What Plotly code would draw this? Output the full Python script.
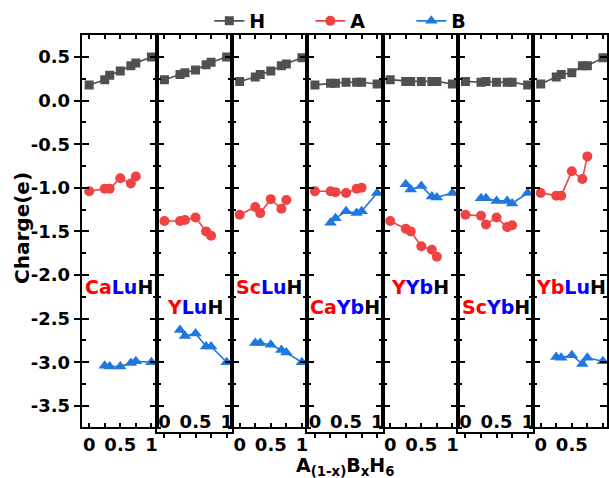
import plotly.graph_objects as go

# ---------------- data ----------------
panels = ["CaLuH", "YLuH", "ScLuH", "CaYbH", "YYbH", "ScYbH", "YbLuH"]
elem_A = ["Ca", "Y", "Sc", "Ca", "Y", "Sc", "Yb"]
elem_B = ["Lu", "Lu", "Lu", "Yb", "Yb", "Yb", "Lu"]

x_H = [0, 0.25, 0.33, 0.5, 0.67, 0.75, 1]
x_A = [0, 0.25, 0.33, 0.5, 0.67, 0.75]
x_B = [0.25, 0.33, 0.5, 0.67, 0.75, 1]

H_vals = [
    [0.18, 0.24, 0.29, 0.34, 0.40, 0.43, 0.50],
    [0.24, 0.30, 0.32, 0.35, 0.41, 0.44, 0.50],
    [0.22, 0.27, 0.30, 0.34, 0.40, 0.42, 0.49],
    [0.18, 0.20, 0.20, 0.21, 0.21, 0.21, 0.19],
    [0.24, 0.22, 0.22, 0.22, 0.22, 0.22, 0.19],
    [0.22, 0.21, 0.22, 0.21, 0.21, 0.21, 0.18],
    [0.19, 0.27, 0.30, 0.32, 0.40, 0.40, 0.49],
]
A_vals = [
    [-1.04, -1.01, -1.01, -0.89, -0.95, -0.87],
    [-1.38, -1.38, -1.37, -1.34, -1.50, -1.55],
    [-1.31, -1.22, -1.29, -1.13, -1.24, -1.14],
    [-1.04, -1.04, -1.05, -1.06, -1.01, -1.00],
    [-1.38, -1.47, -1.50, -1.67, -1.71, -1.79],
    [-1.31, -1.32, -1.42, -1.34, -1.45, -1.43],
    [-1.06, -1.09, -1.09, -0.81, -0.90, -0.64],
]
B_vals = [
    [-3.04, -3.05, -3.05, -3.01, -2.99, -3.00],
    [-2.63, -2.70, -2.67, -2.82, -2.82, -3.00],
    [-2.78, -2.78, -2.80, -2.86, -2.89, -3.00],
    [-1.40, -1.35, -1.27, -1.29, -1.27, -1.06],
    [-0.96, -1.02, -0.98, -1.10, -1.11, -1.06],
    [-1.12, -1.12, -1.15, -1.15, -1.18, -1.06],
    [-2.94, -2.95, -2.92, -3.02, -2.95, -2.99],
]

y_ticks = [0.5, 0.0, -0.5, -1.0, -1.5, -2.0, -2.5, -3.0, -3.5]
y_ticktext = ["0.5", "0.0", "-0.5", "-1.0", "-1.5", "-2.0", "-2.5", "-3.0", "-3.5"]
x_ticks = [0, 0.5, 1]
x_ticktext = ["0", "0.5", "1"]

colors = {"H": "#505050", "A": "#ef4242", "B": "#1f78dc"}
symbols = {"H": "square", "A": "circle", "B": "triangle-up"}
msize = {"H": 9, "A": 10, "B": 11}

# ---------------- geometry ----------------
W, HGT = 609, 478
FONT = "DejaVu Sans"
p_left, p_w = 82.0, 75.5
x_min, ppx = -0.12, 62.4
top_px, zero_px, ppy = 34.7, 100.6, 87.2
bot_odd, bot_even = 427.0, 432.0
y_max = (zero_px - top_px) / ppy

fig = go.Figure()
layout = dict(
    width=W, height=HGT,
    margin=dict(l=0, r=0, t=0, b=0),
    paper_bgcolor="white", plot_bgcolor="white",
    font=dict(family=FONT, size=18, color="black", weight="bold"),
    showlegend=True,
    legend=dict(orientation="h", x=362 / W, y=1 - 21 / HGT,
                xanchor="center", yanchor="middle",
                font=dict(family=FONT, size=19, weight="bold"),
                bgcolor="rgba(0,0,0,0)", entrywidth=56, entrywidthmode="pixels",
                tracegroupgap=0),
)

annotations = []
extra = 8
for i, name in enumerate(panels):
    k = i + 1
    even = (i % 2 == 1)
    left = p_left + i * p_w
    right = min(left + p_w, W)
    xr = [x_min, x_min + (right - left) / ppx]
    bot = bot_even if even else bot_odd
    y_min = (zero_px - bot) / ppy
    ydom = [1 - bot / HGT, 1 - top_px / HGT]
    xs = "" if k == 1 else str(k)

    for s, xv, vals in (("H", x_H, H_vals[i]), ("A", x_A, A_vals[i]), ("B", x_B, B_vals[i])):
        fig.add_trace(go.Scatter(
            x=xv, y=vals, mode="lines+markers", name=s,
            legendgroup=s, showlegend=(i == 0),
            line=dict(color=colors[s], width=1.6),
            marker=dict(symbol=symbols[s], size=msize[s], color=colors[s]),
            xaxis="x" + xs, yaxis="y" + xs,
        ))

    xa = dict(domain=[left / W, right / W], range=xr, anchor="y" + xs,
              showgrid=False, zeroline=False, showline=True, linecolor="black",
              linewidth=2, tickvals=x_ticks, ticktext=x_ticktext,
              tickwidth=2, ticklen=4, tickcolor="black",
              tickfont=dict(family=FONT, size=18, color="black", weight="bold"),
              minor=dict(dtick=0.25, tick0=0, ticklen=4, tickwidth=2, tickcolor="black"))
    if even:
        xa.update(ticks="outside", mirror=False, ticklabelposition="outside",
                  ticklabelstandoff=-32)
        xa["minor"]["ticks"] = "outside"
    else:
        xa.update(ticks="inside", mirror="ticks")
        xa["minor"]["ticks"] = "inside"
    layout["xaxis" + xs] = xa

    ya = dict(domain=ydom, range=[y_min, y_max], anchor="x" + xs,
              showgrid=False, zeroline=False, showline=True, linecolor="black",
              linewidth=2, tickvals=y_ticks, ticktext=y_ticktext,
              tickwidth=2, tickcolor="black",
              tickfont=dict(family=FONT, size=18, color="black", weight="bold"))
    if k == 1:
        ya.update(ticks="outside", ticklen=6, mirror=False, showticklabels=True)
    else:
        ya.update(ticks="inside", ticklen=7, mirror="ticks", showticklabels=False,
                  minor=dict(dtick=0.25, tick0=0, ticks="inside", ticklen=4,
                             tickwidth=2, tickcolor="black"))
    layout["yaxis" + xs] = ya

    if k == 1:
        n = extra; extra += 1
        layout["yaxis%d" % n] = dict(
            overlaying="y", anchor="x", side="left", range=[y_min, y_max],
            showgrid=False, zeroline=False, showline=True, linecolor="black",
            linewidth=2, tickvals=y_ticks, ticks="inside", ticklen=7, tickwidth=2,
            tickcolor="black", mirror="ticks", showticklabels=False,
            minor=dict(dtick=0.25, tick0=0, ticks="inside", ticklen=4,
                       tickwidth=2, tickcolor="black"))
        fig.add_trace(go.Scatter(x=[], y=[], xaxis="x", yaxis="y%d" % n,
                                 showlegend=False, hoverinfo="skip"))
    if even:
        n = extra; extra += 1
        layout["xaxis%d" % n] = dict(
            overlaying="x" + xs, anchor="y" + xs, side="top", range=xr,
            showgrid=False, zeroline=False, showline=True, linecolor="black",
            linewidth=2, tickvals=x_ticks, ticks="inside", ticklen=4, tickwidth=2,
            tickcolor="black", showticklabels=False,
            minor=dict(dtick=0.25, tick0=0, ticks="inside", ticklen=4,
                       tickwidth=2, tickcolor="black"))
        fig.add_trace(go.Scatter(x=[], y=[], xaxis="x%d" % n, yaxis="y" + xs,
                                 showlegend=False, hoverinfo="skip"))

    label_px = 306.5 if even else 287.0
    annotations.append(dict(
        xref="paper", yref="paper", x=(left + p_w / 2) / W, y=1 - label_px / HGT,
        xanchor="center", yanchor="middle", showarrow=False,
        text="<span style='color:#ff0000'>%s</span><span style='color:#0000ff'>%s</span>H"
             % (elem_A[i], elem_B[i]),
        font=dict(family=FONT, size=19, color="black", weight="bold")))

annotations.append(dict(
    xref="paper", yref="paper", x=22 / W, y=1 - 228 / HGT, textangle=-90,
    xanchor="center", yanchor="middle", showarrow=False, text="Charge(e)",
    font=dict(family=FONT, size=20, color="black", weight="bold")))
annotations.append(dict(
    xref="paper", yref="paper", x=346 / W, y=1 - 466 / HGT,
    xanchor="center", yanchor="middle", showarrow=False,
    text="A<sub>(1-x)</sub>B<sub>x</sub>H<sub>6</sub>",
    font=dict(family=FONT, size=19, color="black", weight="bold")))
layout["annotations"] = annotations

fig.update_layout(**layout)
fig.write_html("out.html")
